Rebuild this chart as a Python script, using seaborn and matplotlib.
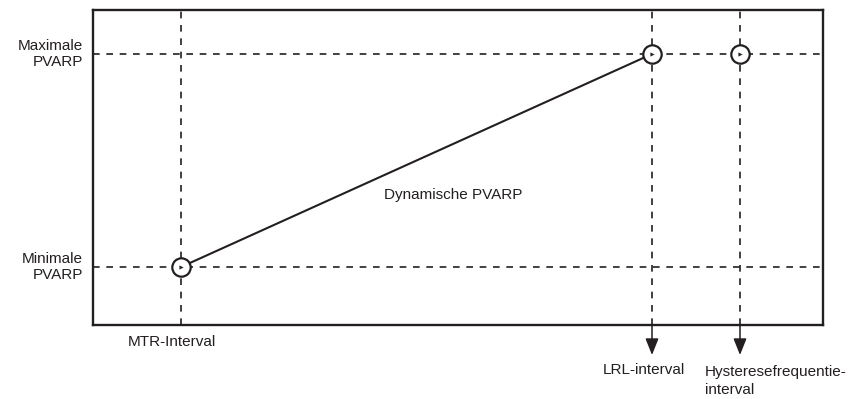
import matplotlib
matplotlib.use('Agg')
import matplotlib.pyplot as plt
import seaborn as sns
import pandas as pd

# Tijdstippen (x) en PVARP-waarden (y), in willekeurige eenheden
x_names = ['MTR-Interval', 'LRL-interval', 'Hysteresefrequentie-\ninterval']
x_vals = [88, 559, 647]
y_names = ['Minimale\nPVARP', 'Maximale\nPVARP']
y_vals = [58, 271]

# Dynamische PVARP lijn
line_x = [88, 559]
line_y = [58, 271]

# Punten (cirkels)
pt_x = [88, 559, 647]
pt_y = [58, 271, 271]

ink = '#231f20'

sns.set_style('white')
plt.rcParams['font.family'] = ['Liberation Sans', 'DejaVu Sans']

fig = plt.figure(figsize=(8.53, 3.99), dpi=100)
ax = fig.add_axes([93/853, 74/399, 730/853, 315/399])
ax.set_xlim(0, 730)
ax.set_ylim(0, 315)

# Hulplijnen
for xv in x_vals:
    ax.axvline(xv, color=ink, lw=1.2, ls=(0, (4, 4)), zorder=1)
for yv in y_vals:
    ax.axhline(yv, color=ink, lw=1.2, ls=(0, (4, 4)), zorder=1)

df_line = pd.DataFrame({'x': line_x, 'y': line_y})
sns.lineplot(data=df_line, x='x', y='y', color=ink, lw=1.5, ax=ax, zorder=2)

df_pts = pd.DataFrame({'x': pt_x, 'y': pt_y})
sns.scatterplot(data=df_pts, x='x', y='y', s=175, facecolor='white',
                edgecolor=ink, linewidth=1.6, ax=ax, zorder=3)
sns.scatterplot(data=df_pts, x='x', y='y', s=9, marker='>', color=ink,
                linewidth=0, ax=ax, zorder=4)

ax.text(360, 130, 'Dynamische PVARP', ha='center', va='center', fontsize=11,
        color=ink)

# Labels links
for yv, name in zip(y_vals, y_names):
    ax.text(-10, yv, name, ha='right', va='center', fontsize=11, color=ink,
            linespacing=1.15, clip_on=False)

# MTR-label onder de as
ax.text(35, -17, x_names[0], ha='left', va='center', fontsize=11, color=ink,
        clip_on=False)

# Pijlen naar beneden
for xv in x_vals[1:]:
    ax.annotate('', xy=(xv, -30), xytext=(xv, 0), annotation_clip=False,
                arrowprops=dict(arrowstyle='-|>,head_length=1.0,head_width=0.4',
                                color=ink, lw=1.1, shrinkA=0, shrinkB=0))

ax.text(551, -45, x_names[1], ha='center', va='center', fontsize=11,
        color=ink, clip_on=False)
ax.text(612, -56, x_names[2], ha='left', va='center', fontsize=11, color=ink,
        linespacing=1.4, clip_on=False)

ax.set_xticks([])
ax.set_yticks([])
ax.set_xlabel('')
ax.set_ylabel('')
for sp in ax.spines.values():
    sp.set_linewidth(1.7)
    sp.set_color(ink)

fig.savefig('out.png', dpi=100)
